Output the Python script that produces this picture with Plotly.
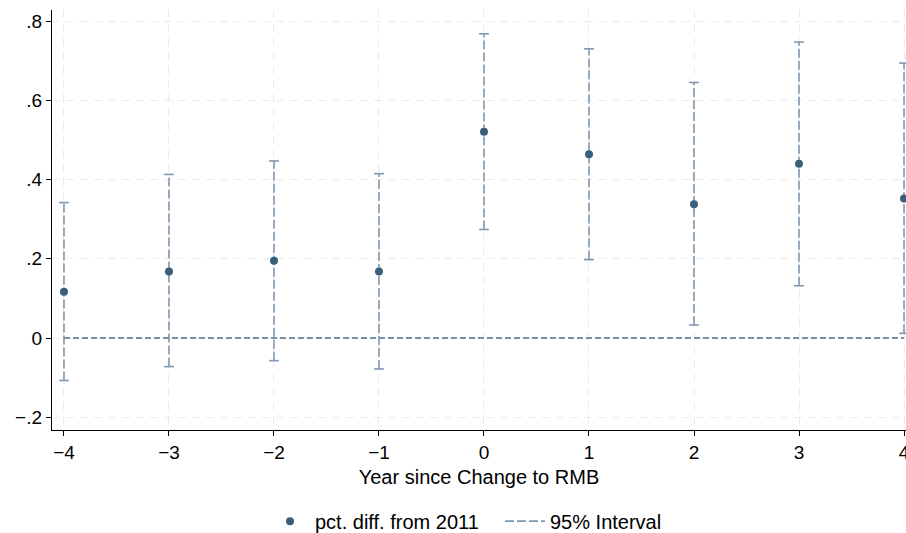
import plotly.graph_objects as go

years = [-4, -3, -2, -1, 0, 1, 2, 3, 4]
estimate = [0.117, 0.168, 0.195, 0.168, 0.521, 0.464, 0.338, 0.440, 0.352]
ci_upper = [0.342, 0.413, 0.447, 0.415, 0.768, 0.730, 0.645, 0.747, 0.694]
ci_lower = [-0.107, -0.072, -0.057, -0.078, 0.274, 0.198, 0.033, 0.132, 0.012]

y_tickvals = [-0.2, 0, 0.2, 0.4, 0.6, 0.8]
y_ticktext = ["\u2212.2", "0", ".2", ".4", ".6", ".8"]
x_ticktext = ["\u22124", "\u22123", "\u22122", "\u22121", "0", "1", "2", "3", "4"]

navy = "#3a5f7a"
ci_col = "#7f98b0"
font = "Liberation Sans, Arial, Helvetica, sans-serif"

fig = go.Figure()

# zero reference line
fig.add_trace(go.Scatter(x=[years[0], years[-1]], y=[0, 0], mode="lines",
                         line=dict(color="#4b6f8b", width=1.5, dash="6px,3px"),
                         showlegend=False, hoverinfo="skip"))

# CI whiskers
wx, wy = [], []
for x, lo, hi in zip(years, ci_lower, ci_upper):
    wx += [x, x, None]
    wy += [lo, hi, None]
fig.add_trace(go.Scatter(x=wx, y=wy, mode="lines", name="95% Interval",
                         line=dict(color=ci_col, width=1.6, dash="9px,3px"),
                         showlegend=True, cliponaxis=False))
# caps
fig.add_trace(go.Scatter(x=years + years, y=ci_upper + ci_lower, mode="markers",
                         marker=dict(symbol="line-ew", size=7,
                                     line=dict(color=ci_col, width=1.6)),
                         showlegend=False, cliponaxis=False))

# point estimates
fig.add_trace(go.Scatter(x=years, y=estimate, mode="markers",
                         name="pct. diff. from 2011",
                         marker=dict(color=navy, size=8, symbol="circle"),
                         cliponaxis=False))

fig.update_layout(
    width=906, height=533,
    margin=dict(l=52, r=0, t=10, b=103, autoexpand=False),
    paper_bgcolor="white", plot_bgcolor="white",
    font=dict(family=font, size=18, color="black"),
    legend=dict(orientation="h", x=0.2494, xanchor="left", y=-0.217, yanchor="middle",
                font=dict(size=20), traceorder="reversed", itemwidth=40,
                entrywidth=180),
    showlegend=True,
)

fig.update_xaxes(
    range=[-4.114, 4.019], tickvals=years, ticktext=x_ticktext,
    automargin=False, ticklabeloverflow="allow",
    showline=True, linecolor="black", linewidth=1.3,
    ticks="outside", ticklen=5, tickcolor="black", tickwidth=1.2,
    showgrid=True, gridcolor="#ebebeb", gridwidth=1.2, griddash="8px,6px",
    zeroline=False, tickfont=dict(size=19),
    title=dict(text="Year since Change to RMB", font=dict(size=20), standoff=8),
)
fig.update_yaxes(
    range=[-0.232, 0.828], tickvals=y_tickvals, ticktext=y_ticktext,
    automargin=False,
    showline=True, linecolor="black", linewidth=1.3,
    ticks="outside", ticklen=5, tickcolor="black", tickwidth=1.2,
    showgrid=True, gridcolor="#ebebeb", gridwidth=1.2, griddash="8px,6px",
    zeroline=False, tickfont=dict(size=19),
)

fig.write_html("out.html", config={"displayModeBar": False},
               post_script="document.body.style.margin='0';document.body.style.overflow='hidden';")
